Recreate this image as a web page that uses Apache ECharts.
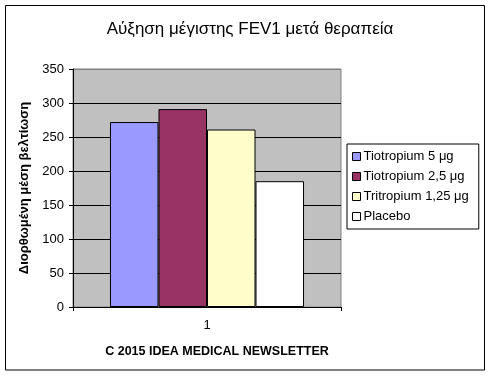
<!DOCTYPE html>
<html>
<head>
<meta charset="utf-8">
<script src="https://cdn.jsdelivr.net/npm/echarts@6/dist/echarts.min.js"></script>
<style>
html,body{margin:0;padding:0;background:#fff;}
#c{width:490px;height:376px;}
</style>
</head>
<body>
<div id="c"></div>
<script>
const titleText = 'Αύξηση μέγιστης FEV1 μετά θεραπεία';
const yAxisTitle = 'Διορθωμένη μέση βελτίωση';
const footerText = 'C 2015 IDEA MEDICAL NEWSLETTER';
const categories = ['1'];
const seriesNames = ['Tiotropium 5 μg', 'Tiotropium 2,5 μg', 'Tritropium 1,25 μg', 'Placebo'];
const seriesValues = [[272], [291], [261], [185]];
const seriesColors = ['#9999FF', '#993366', '#FFFFCC', '#FFFFFF'];
const yMin = 0, yMax = 350, yStep = 50;

const font = 'Arial, "Liberation Sans", sans-serif';
const chart = echarts.init(document.getElementById('c'), null, {renderer: 'canvas'});

const gridColors = [];
for (let v = yMin; v <= yMax; v += yStep) gridColors.push(v === yMax ? '#808080' : '#000000');

chart.setOption({
  animation: false,
  backgroundColor: '#ffffff',
  title: [
    {text: titleText, left: 245, top: 16, textAlign: 'center',
     textStyle: {fontFamily: font, fontSize: 17, fontWeight: 'normal', color: '#000'}},
    {text: footerText, left: 212, top: 340, textAlign: 'center',
     textStyle: {fontFamily: font, fontSize: 12.5, fontWeight: 'bold', color: '#000'}}
  ],
  graphic: [{
    type: 'rect', shape: {x: 5.5, y: 5.5, width: 479, height: 364.5},
    style: {fill: 'none', stroke: '#000', lineWidth: 1}, silent: true, z: 100
  }],
  legend: {
    orient: 'vertical', left: 347, top: 144,
    padding: [6, 10, 6, 5], itemGap: 7,
    itemWidth: 8, itemHeight: 8,
    borderColor: '#000', borderWidth: 1,
    icon: 'rect',
    textStyle: {fontFamily: font, fontSize: 13, color: '#000', padding: [0, 0, 0, -2]},
    data: seriesNames.map((n, i) => ({name: n, itemStyle: {color: seriesColors[i], borderColor: '#000', borderWidth: 1}}))
  },
  grid: {left: 73, top: 69, width: 268, height: 238, show: true, backgroundColor: '#C0C0C0', borderColor: '#808080', borderWidth: 1},
  xAxis: {
    type: 'category', data: categories,
    axisLine: {lineStyle: {color: '#000'}},
    axisTick: {show: true, length: 4, lineStyle: {color: '#000'}},
    axisLabel: {fontFamily: font, fontSize: 13, color: '#000', margin: 12}
  },
  yAxis: {
    type: 'value', min: yMin, max: yMax, interval: yStep,
    name: yAxisTitle, nameLocation: 'middle', nameGap: 41,
    nameTextStyle: {fontFamily: font, fontSize: 13, fontWeight: 'bold', color: '#000'},
    axisLine: {show: true, lineStyle: {color: '#000'}},
    axisTick: {show: true, length: 4, lineStyle: {color: '#000'}},
    axisLabel: {fontFamily: font, fontSize: 13, color: '#000', margin: 9},
    splitLine: {show: true, lineStyle: {color: gridColors, width: 1}}
  },
  series: seriesNames.map((n, i) => ({
    name: n, type: 'bar', data: seriesValues[i],
    barGap: '0%', barCategoryGap: '27.6%',
    itemStyle: {color: seriesColors[i], borderColor: '#000', borderWidth: 1}
  }))
});
</script>
</body>
</html>
